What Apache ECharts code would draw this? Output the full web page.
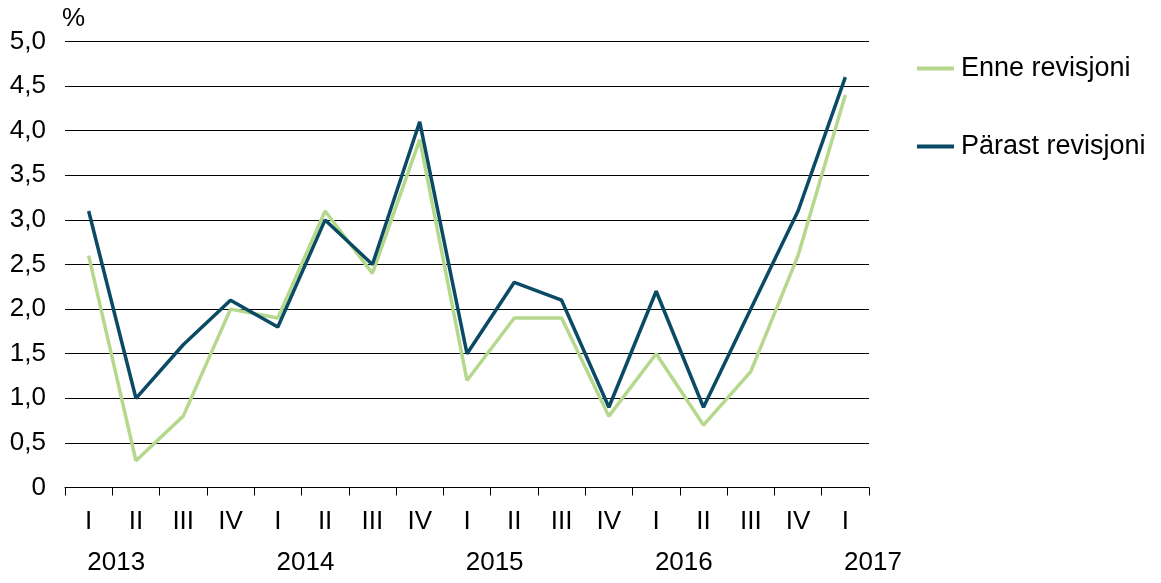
<!DOCTYPE html>
<html>
<head>
<meta charset="utf-8">
<script src="https://cdn.jsdelivr.net/npm/echarts@6/dist/echarts.min.js"></script>
<style>
html,body{margin:0;padding:0;background:#fff;}
#chart{width:1161px;height:583px;}
</style>
</head>
<body>
<div id="chart"></div>
<script>
const quarters = ['I','II','III','IV','I','II','III','IV','I','II','III','IV','I','II','III','IV','I'];
const years = {1:'2013',5:'2014',9:'2015',13:'2016',17:'2017'};
const enneRevisjoni = [2.6,0.3,0.8,2.0,1.9,3.1,2.4,3.9,1.2,1.9,1.9,0.8,1.5,0.7,1.3,2.6,4.4];
const parastRevisjoni = [3.1,1.0,1.6,2.1,1.8,3.0,2.5,4.1,1.5,2.3,2.1,0.9,2.2,0.9,2.0,3.1,4.6];
const seriesNames = ['Enne revisjoni','Pärast revisjoni'];

const font = 'Liberation Sans, Arial, sans-serif';
const chart = echarts.init(document.getElementById('chart'));
chart.setOption({
  animation:false,
  textStyle:{fontFamily:font},
  grid:{left:65,right:292,top:41.5,bottom:95.5,containLabel:false},
  legend:{
    orient:'vertical', left:912, top:50, itemWidth:37, itemHeight:4, itemGap:51,
    icon:'rect',
    textStyle:{fontSize:27,color:'#000',fontFamily:font,padding:[0,0,0,2]},
    data:seriesNames
  },
  xAxis:[{
    type:'category', data:quarters, boundaryGap:true,
    axisLine:{lineStyle:{color:'#000',width:1}},
    axisTick:{show:true,length:8,lineStyle:{color:'#000'}},
    axisLabel:{fontSize:26,color:'#000',margin:21,fontFamily:font}
  },{
    type:'value', min:0, max:17, interval:1, position:'bottom',
    axisLine:{show:false}, axisTick:{show:false}, splitLine:{show:false},
    axisLabel:{fontSize:26,color:'#000',margin:62,fontFamily:font,showMinLabel:true,showMaxLabel:true,
      padding:[0,0,0,8],
      formatter:function(v){return years[Math.round(v)]||'';}}
  }],
  yAxis:{
    type:'value', min:0, max:5, interval:0.5,
    name:'%', nameLocation:'end', nameGap:10,
    nameTextStyle:{fontSize:26,color:'#000',align:'left',padding:[0,0,0,-3],fontFamily:font},
    axisLine:{show:false}, axisTick:{show:false},
    splitLine:{lineStyle:{color:'#000',width:1}},
    axisLabel:{fontSize:26,color:'#000',margin:19,fontFamily:font,
      formatter:function(v){return v===0?'0':v.toFixed(1).replace('.',',');}}
  },
  series:[{
    name:seriesNames[0], type:'line', data:enneRevisjoni, symbol:'none',
    lineStyle:{width:3.5,color:'#b6d88c'}, itemStyle:{color:'#b6d88c'}
  },{
    name:seriesNames[1], type:'line', data:parastRevisjoni, symbol:'none',
    lineStyle:{width:3.5,color:'#0b4a64'}, itemStyle:{color:'#0b4a64'}
  }]
});
</script>
</body>
</html>
